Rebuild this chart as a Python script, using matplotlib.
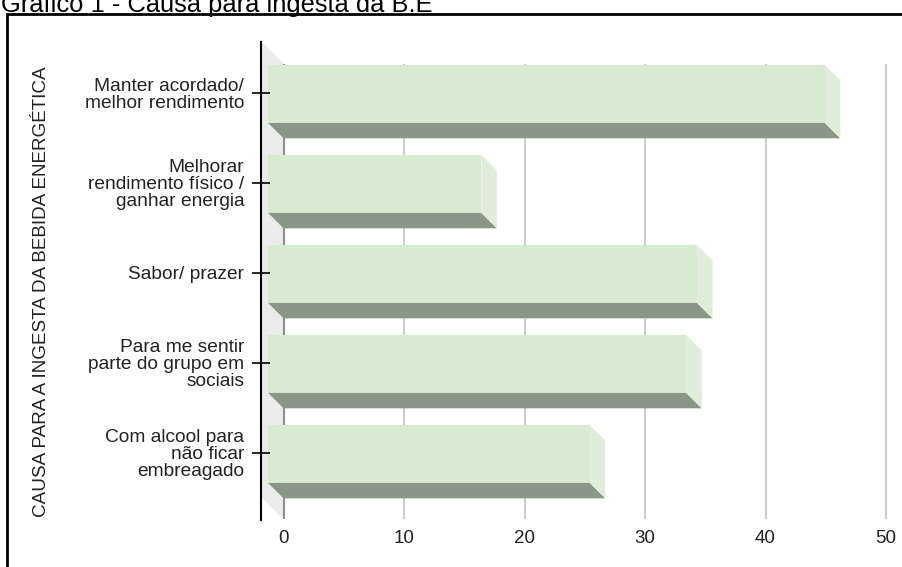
import matplotlib
matplotlib.use("Agg")
import matplotlib.pyplot as plt
from matplotlib.patches import Rectangle

categories = [
    "Manter acordado/\nmelhor rendimento",
    "Melhorar\nrendimento físico /\nganhar energia",
    "Sabor/ prazer",
    "Para me sentir\nparte do grupo em\nsociais",
    "Com alcool para\nnão ficar\nembreagado",
]
values = [46.2, 17.7, 35.6, 34.7, 26.7]
xticks = [0, 10, 20, 30, 40, 50]

title = "Gráfico 1 - Causa para ingesta da B.E"
ylabel = "CAUSA PARA A INGESTA DA BEBIDA ENERGÉTICA"

plt.rcParams["font.family"] = ["Liberation Sans", "DejaVu Sans"]

W, H = 903, 567
fig = plt.figure(figsize=(W / 100, H / 100), dpi=100)

# plot area in pixels
left, right, top, bottom = 261.5, 900, 35, 525
ax = fig.add_axes([left / W, 1 - bottom / H, (right - left) / W, (bottom - top) / H])

# 3d depth of the chart in data units (x in values, y in category steps)
DX, DY = 1.83, 0.244
t_front = 0.3          # bars start at this fraction of the depth
sx, sy = DX * (1 - t_front), DY * (1 - t_front)
wall_top, wall_bot = -0.567, 4.489
bar_up, bar_down = 0.311, 0.333

ax.set_xlim(-DX, 51.16)
ax.set_ylim(4.8, -0.644)

# side wall
ax.fill([-DX, 0, 0, -DX], [wall_top, wall_top + DY, wall_bot + DY, wall_bot],
        color="#ebebeb", lw=0, zorder=0)

# grid on the back wall
for x in xticks:
    ax.vlines(x, wall_top + DY, wall_bot + DY, color="#8f8f8f" if x == 0 else "#cccccc",
              lw=1.5, zorder=0.5)

# bars
for i, v in enumerate(values):
    x0 = -DX * (1 - t_front)
    xe = v - DX * (1 - t_front)
    y_top, y_bot = i - bar_up, i + bar_down
    ax.fill([x0, xe, xe, x0], [y_top, y_top, y_bot, y_bot], color="#d9ead3", lw=0, zorder=1)
    ax.fill([x0, xe, xe + sx, x0 + sx], [y_bot, y_bot, y_bot + sy, y_bot + sy],
            color="#8b9786", lw=0, zorder=1)
    ax.fill([xe, xe + sx, xe + sx, xe], [y_top, y_top + sy, y_bot + sy, y_bot],
            color="#e0eddb", lw=0, zorder=1)

for s in ["top", "right", "bottom"]:
    ax.spines[s].set_visible(False)
ax.spines["left"].set_bounds(wall_top, 4.744)
ax.spines["left"].set_linewidth(1.5)
ax.spines["left"].set_color("black")

ax.set_yticks(range(len(categories)), categories)
ax.tick_params(axis="y", direction="inout", length=13, width=1.2, color="black",
               pad=6, labelsize=13.8, labelcolor="#222222")
for lab in ax.get_yticklabels():
    lab.set_linespacing(1.0)

ax.set_xticks(xticks, [str(x) for x in xticks])
ax.tick_params(axis="x", length=0, pad=3.5, labelsize=13.5, labelcolor="#222222")

fig.text(42 / W, 1 - 292 / H, ylabel, rotation=90, ha="center", va="center",
         fontsize=13.6, color="#222222")
fig.text(1 / W, 1 - 12 / H, title, ha="left", va="baseline", fontsize=18.4, color="black")

fig.add_artist(Rectangle((7 / W, -0.05), 1.0, 1.05 - 14 / H, transform=fig.transFigure,
                         fill=False, lw=2, edgecolor="black"))

fig.savefig("out.png", dpi=100)
